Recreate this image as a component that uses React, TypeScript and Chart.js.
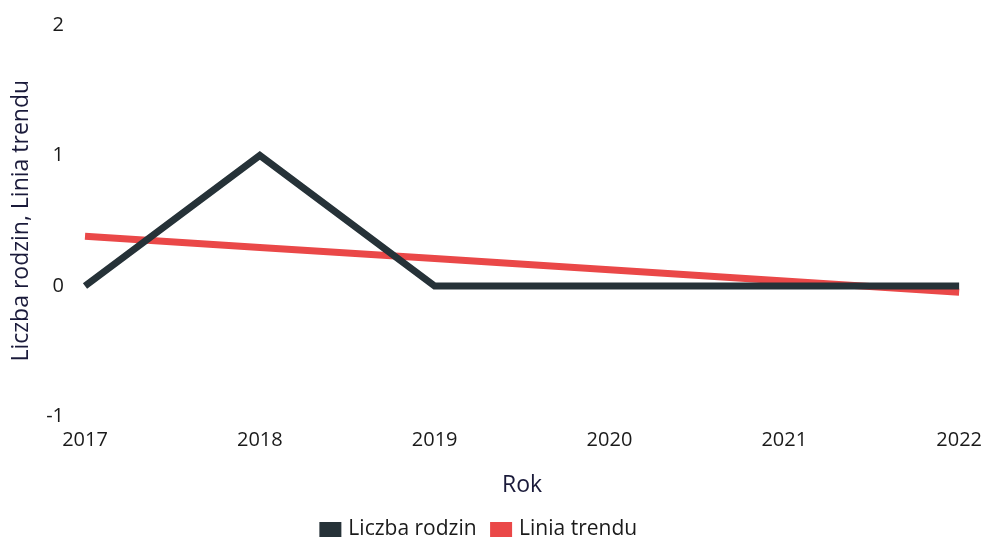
import React, { useEffect, useRef } from "react";
import { Chart, registerables } from "chart.js";

Chart.register(...registerables);

const years = ["2017", "2018", "2019", "2020", "2021", "2022"];
const liczbaRodzin = [0, 1, 0, 0, 0, 0];
const liniaTrendu = [0.381, 0.295, 0.21, 0.124, 0.038, -0.048];
const yTicks = [-1, 0, 1, 2];

const FONT = "'Open Sans', 'Noto Sans', sans-serif";

export default function App() {
  const ref = useRef<HTMLCanvasElement | null>(null);
  useEffect(() => {
    document.body.style.margin = "0";
    const ctx = ref.current!.getContext("2d")!;
    const chart = new Chart(ctx, {
      type: "line",
      data: {
        labels: years,
        datasets: [
          {
            label: "Liczba rodzin",
            data: liczbaRodzin,
            borderColor: "#263238",
            backgroundColor: "#263238",
            borderWidth: 7,
            pointRadius: 0,
            tension: 0,
          },
          {
            label: "Linia trendu",
            data: liniaTrendu,
            borderColor: "#ea4848",
            backgroundColor: "#ea4848",
            borderWidth: 7,
            pointRadius: 0,
            tension: 0,
          },
        ],
      },
      options: {
        animation: false,
        responsive: false,
        layout: { padding: { top: 8, right: 26, left: 0, bottom: -8 } },
        plugins: {
          legend: {
            position: "bottom",
            labels: {
              boxWidth: 15,
              boxHeight: 8,
              color: "#1a1a1a",
              font: { family: FONT, size: 21 },
              padding: 17,
            },
          },
          tooltip: { enabled: false },
        },
        scales: {
          x: {
            grid: { display: false },
            border: { display: false },
            ticks: {
              color: "#1a1a1a",
              font: { family: FONT, size: 20 },
              maxRotation: 0,
              padding: 4,
            },
            title: {
              display: true,
              text: "Rok",
              color: "#1a1a3a",
              font: { family: FONT, size: 23 },
              padding: { top: 15, bottom: 3 },
            },
          },
          y: {
            min: -1,
            max: 2,
            afterBuildTicks: (scale: any) => {
              scale.ticks = yTicks.map((v) => ({ value: v }));
            },
            afterFit: (scale: any) => {
              scale.width = 85;
            },
            grid: { display: false },
            border: { display: false },
            ticks: {
              color: "#1a1a1a",
              font: { family: FONT, size: 20 },
              padding: 13,
            },
            title: {
              display: true,
              text: "Liczba rodzin, Linia trendu",
              color: "#1a1a3a",
              font: { family: FONT, size: 23 },
              padding: { top: 8, bottom: 0 },
            },
          },
        },
      },
    });
    return () => chart.destroy();
  }, []);
  return (
    <div style={{ position: "absolute", left: 0, top: 0, width: 986, height: 542 }}>
      <canvas ref={ref} width={986} height={542} />
    </div>
  );
}
